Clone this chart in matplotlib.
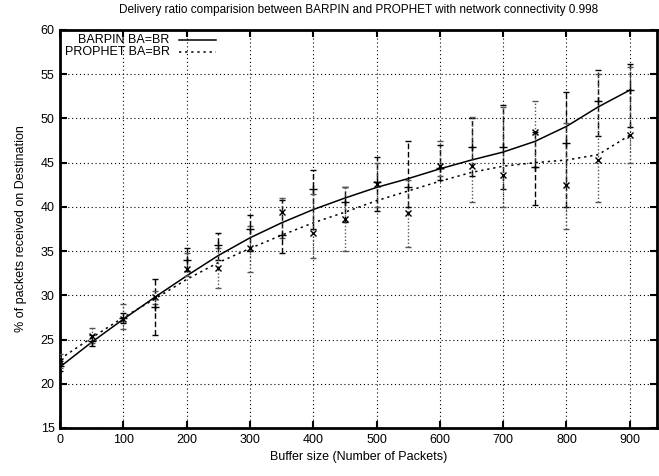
import matplotlib
matplotlib.use("Agg")
import matplotlib.pyplot as plt

plt.rcParams['font.family'] = ['Liberation Sans', 'DejaVu Sans']

buffer_sizes = [0, 50, 100, 150, 200, 250, 300, 350, 400, 450, 500, 550, 600, 650, 700, 750, 800, 850, 900]

# smoothed curves
barpin_curve = [21.9, 24.7, 27.3, 29.8, 32.2, 34.5, 36.5, 38.2, 39.7, 41.0, 42.2, 43.2, 44.3, 45.3, 46.2, 47.4, 49.1, 51.3, 53.2]
prophet_curve = [22.8, 25.2, 27.5, 29.6, 31.8, 33.7, 35.3, 36.8, 38.2, 39.4, 40.7, 41.8, 42.9, 43.9, 44.6, 45.0, 45.3, 45.9, 48.1]

# data points with error ranges
barpin_mean = [22.0, 24.8, 27.4, 28.7, 34.0, 35.7, 37.5, 36.8, 42.0, 40.5, 42.8, 42.3, 44.4, 46.8, 46.8, 44.5, 47.2, 52.0, 53.2]
barpin_low = [21.5, 24.3, 26.9, 25.5, 32.8, 34.0, 35.0, 34.8, 37.5, 38.3, 39.5, 40.0, 43.0, 43.5, 42.0, 40.2, 40.0, 48.0, 49.0]
barpin_high = [22.6, 25.5, 28.0, 31.9, 35.3, 37.0, 39.1, 40.8, 44.2, 42.2, 45.6, 47.4, 47.0, 50.0, 51.5, 48.5, 53.0, 55.5, 56.2]

prophet_mean = [22.6, 25.4, 27.3, 29.8, 33.0, 33.1, 35.3, 39.4, 37.1, 38.6, 42.6, 39.3, 44.6, 44.6, 43.6, 48.5, 42.5, 45.3, 48.1]
prophet_low = [21.8, 24.6, 26.2, 29.0, 32.2, 30.8, 32.6, 36.5, 34.2, 35.0, 40.0, 35.5, 43.5, 40.5, 40.0, 44.5, 37.5, 40.6, 45.0]
prophet_high = [23.4, 26.3, 29.0, 30.5, 34.8, 35.3, 37.8, 41.0, 41.5, 42.2, 45.0, 43.0, 47.5, 50.2, 51.3, 52.0, 49.5, 55.0, 55.8]

x_ticks = [0, 100, 200, 300, 400, 500, 600, 700, 800, 900]
y_ticks = [15, 20, 25, 30, 35, 40, 45, 50, 55, 60]

fig = plt.figure(figsize=(6.59, 4.76), dpi=100)
ax = fig.add_axes([60/659, 48/476, 597/659, 398/476])

ax.plot(buffer_sizes, barpin_curve, color='black', lw=1.1, ls='-', zorder=3)
ax.plot(buffer_sizes, prophet_curve, color='black', lw=1.1, ls=(0, (1.5, 2.5)), zorder=3)

b_err = [[m - l for m, l in zip(barpin_mean, barpin_low)], [h - m for m, h in zip(barpin_mean, barpin_high)]]
p_err = [[m - l for m, l in zip(prophet_mean, prophet_low)], [h - m for m, h in zip(prophet_mean, prophet_high)]]

eb1 = ax.errorbar(buffer_sizes, barpin_mean, yerr=b_err, fmt='+', color='black', ms=6, mew=1.0,
                  ecolor='black', elinewidth=1.0, capsize=2.5, capthick=1.0, zorder=4)
eb1[2][0].set_linestyle((0, (4, 2)))
eb2 = ax.errorbar(buffer_sizes, prophet_mean, yerr=p_err, fmt='x', color='black', ms=5, mew=1.0,
                  ecolor='#555555', elinewidth=1.0, capsize=2.5, capthick=1.0, zorder=4)
eb2[2][0].set_linestyle((0, (1, 1.5)))

ax.set_xlim(0, 943)
ax.set_ylim(15, 60)
ax.set_xticks(x_ticks)
ax.set_yticks(y_ticks)
ax.tick_params(direction='in', length=5, width=1.5, top=True, right=True, labelsize=9, pad=4)
ax.grid(True, color='black', ls=(0, (1, 2.5)), lw=0.8)
for s in ax.spines.values():
    s.set_linewidth(2.0)

ax.set_title('Delivery ratio comparision between BARPIN and PROPHET with network connectivity 0.998',
             fontsize=8.5, pad=12)
ax.set_xlabel('Buffer size (Number of Packets)', fontsize=9, labelpad=4)
ax.set_ylabel('% of packets received on Destination', fontsize=9, labelpad=10)

# legend (gnuplot style: right aligned text, sample to the right)
ax.text(0.184, 0.975, 'BARPIN BA=BR', transform=ax.transAxes, ha='right', va='center', fontsize=9)
ax.text(0.184, 0.945, 'PROPHET BA=BR', transform=ax.transAxes, ha='right', va='center', fontsize=9)
ax.plot([0.2, 0.262], [0.975, 0.975], transform=ax.transAxes, color='black', lw=1.1)
ax.plot([0.2, 0.262], [0.945, 0.945], transform=ax.transAxes, color='black', lw=1.1, ls=(0, (1.5, 2.5)))

fig.savefig('out.png', dpi=100)
